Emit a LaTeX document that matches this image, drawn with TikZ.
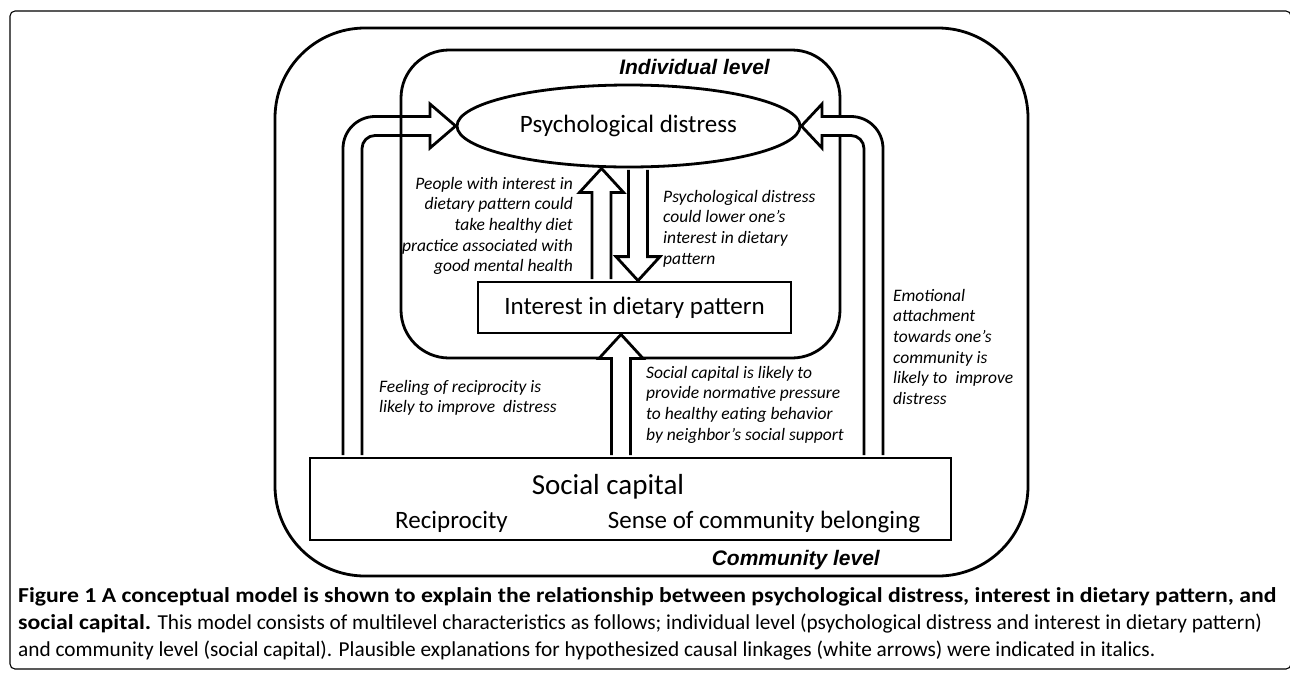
\documentclass[tikz,border=0pt]{standalone}
\usepackage{fontspec}
\setmainfont{Carlito}
\newfontfamily\levelfont{Liberation Sans}
\newfontfamily\capfont[BoldFeatures={FakeStretch=1.115}]{Carlito}
\usetikzlibrary{calc,positioning,shapes.geometric}

% white block arrow from base #1 to tip #2
\newcommand{\blockarrow}[2]{%
  \coordinate (h) at ($(#2)!24pt!(#1)$);
  \filldraw[blockarr] ($(#1)!9.5pt!90:(#2)$) -- ($(h)!9.5pt!90:(#2)$)
    -- ($(h)!22pt!90:(#2)$) -- (#2) -- ($(h)!22pt!-90:(#2)$)
    -- ($(h)!9.5pt!-90:(#2)$) -- ($(#1)!9.5pt!-90:(#2)$);}

\begin{document}
\begin{tikzpicture}[x=1pt,y=-1pt,
  framebox/.style={draw,line width=1.1pt,rounded corners=5pt},
  levelbox/.style={draw,line width=2.8pt,inner sep=0pt},
  conceptbox/.style={draw,fill=white,line width=2.8pt,inner sep=0pt},
  blockarr/.style={draw,fill=white,line width=2.8pt,line join=miter},
  concept/.style={font=\fontsize{25}{30}\selectfont},
  note/.style={font=\fontsize{17.5}{20.6}\selectfont\itshape,inner sep=0pt},
  levellabel/.style={font=\levelfont\fontsize{21}{25}\selectfont\bfseries\itshape,inner sep=0pt},
  caption/.style={font=\capfont\fontsize{21.3}{26}\selectfont,inner sep=0pt,anchor=west}]
  \useasboundingbox (0,0) rectangle (1290,673);

  % figure frame and community level
  \draw[framebox] (10,11) rectangle (1291,669);
  \node[levelbox,rounded corners=90pt,minimum width=753pt,minimum height=548pt] (community) at (651.5,302) {};

  % the three concepts
  \node[conceptbox,ellipse,minimum width=343pt,minimum height=82pt,concept] (psy) at (628.5,126) {Psychological distress};
  \node[conceptbox,minimum width=313pt,minimum height=51pt,concept] (interest) at (634.5,307.5) {Interest in dietary pattern};
  \node[conceptbox,minimum width=641pt,minimum height=82pt] (social) at (630.5,499) {};
  \node[font=\fontsize{29}{34}\selectfont] (socialcap) at (608,487) {Social capital};
  \node[concept] (recip) at (451.5,522) {Reciprocity};
  \node[concept] (belong) at (764,522) {Sense of community belonging};

  \coordinate (sn) at ($(social.north)+(0,-1.4)$);
  \coordinate (lout) at (343,116.5);
  \coordinate (lin) at (362,135.5);
  \coordinate (rout) at (883,116.5);
  \coordinate (rin) at (864,135.5);

  % reciprocity -> distress
  \filldraw[blockarr] (sn -| lout) -- (343,148.5) arc[start angle=180,end angle=270,radius=32]
    -- (430,116.5) -- (430,104) -- (psy.west) -- (430,148) -- (430,135.5)
    -- (375,135.5) arc[start angle=270,end angle=180,radius=13] -- (sn -| lin);

  % individual level
  \node[levelbox,rounded corners=48pt,minimum width=439pt,minimum height=308pt] (individual) at (620.5,204) {};

  % belonging -> distress
  \filldraw[blockarr] (sn -| rout) -- (883,148.5) arc[start angle=0,end angle=-90,radius=32]
    -- (822,116.5) -- (822,104) -- (psy.east) -- (822,148) -- (822,135.5)
    -- (851,135.5) arc[start angle=-90,end angle=0,radius=13] -- (sn -| rin);

  % arrows between the concepts
  \coordinate (upb) at ($(interest.north)+(-33,-1.4)$);
  \coordinate (dnb) at ($(psy.south)+(9.5,1.4)$);
  \coordinate (btb) at ($(sn)+(-9.5,0)$);
  \blockarrow{upb}{psy.south -| upb}
  \blockarrow{dnb}{interest.north -| dnb}
  \blockarrow{btb}{interest.south -| btb}

  % explanations
  \node[note,align=right,anchor=north east] (n1) at (573,177) {People with interest in\\dietary pattern could\\take healthy diet\\practice associated with\\good mental health};
  \node[note,align=left,anchor=north west] (n2) at (663,190) {Psychological distress\\could lower one's\\interest in dietary\\pattern};
  \node[note,align=left,anchor=north west] (n3) at (379,380) {Feeling of reciprocity is\\likely to improve~ distress};
  \node[note,align=left,anchor=north west] (n4) at (646,366) {Social capital is likely to\\provide normative pressure\\to healthy eating behavior\\by neighbor's social support};
  \node[note,align=left,anchor=north west] (n5) at (893,289) {Emotional\\attachment\\towards one's\\community is\\likely to~ improve\\distress};

  \node[levellabel,anchor=east] (indivlabel) at (770,67) {Individual level};
  \node[levellabel,anchor=base east] (commlabel) at (880,565.5) {Community level};

  % caption
  \node[caption] (cap1) at (18,597) {\bfseries Figure 1 A conceptual model is shown to explain the relationship between psychological distress, interest in dietary pattern, and};
  \node[caption] (cap2) at (18,624) {\textbf{social capital.} This model consists of multilevel characteristics as follows; individual level (psychological distress and interest in dietary pattern)};
  \node[caption] (cap3) at (18,651) {and community level (social capital). Plausible explanations for hypothesized causal linkages (white arrows) were indicated in italics.};
\end{tikzpicture}
\end{document}
